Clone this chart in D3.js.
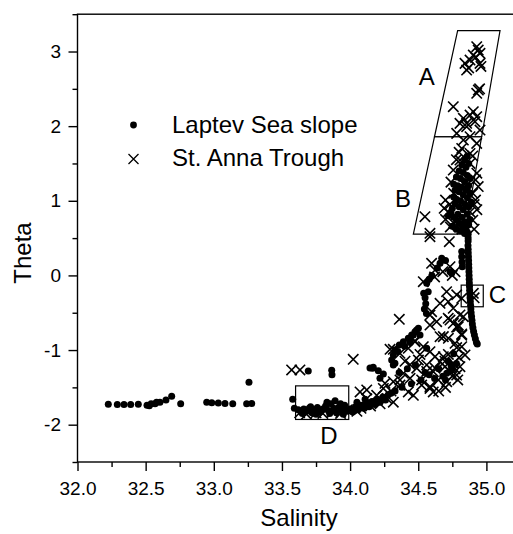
<!DOCTYPE html>
<html><head><meta charset="utf-8">
<script src="https://cdn.jsdelivr.net/npm/d3@7"></script>
<style>html,body{margin:0;padding:0;background:#fff;} svg{display:block;}</style>
</head><body>
<svg id="chart" width="513" height="534"></svg>
<script>
// ---- data (salinity, theta) ----
const xTickValues = [32.0, 32.5, 33.0, 33.5, 34.0, 34.5, 35.0];
const xMinorTicks = [32.25, 32.75, 33.25, 33.75, 34.25, 34.75, 35.25];
const yTickValues = [-2, -1, 0, 1, 2, 3];
const yMinorTicks = [-2.5, -1.5, -0.5, 0.5, 1.5, 2.5, 3.5];
const seriesNames = ["Laptev Sea slope", "St. Anna Trough"];

const laptevSlope = [
  [32.226,-1.725],[32.292,-1.73],[32.341,-1.728],[32.39,-1.728],[32.446,-1.725],[32.51,-1.74],[32.527,-1.745],
  [32.54,-1.72],[32.569,-1.72],[32.58,-1.70],[32.605,-1.70],[32.649,-1.67],[32.691,-1.62],[32.757,-1.72],
  [32.948,-1.70],[32.985,-1.705],[33.033,-1.71],[33.082,-1.715],[33.139,-1.72],[33.241,-1.72],[33.278,-1.715],[33.258,-1.43],
  [33.579,-1.66],[33.591,-1.78],[33.693,-1.28],[33.865,-1.27],[33.867,-1.33],
  [33.62,-1.80],[33.64,-1.83],[33.66,-1.79],[33.68,-1.82],[33.70,-1.78],[33.72,-1.84],[33.74,-1.80],[33.76,-1.77],
  [33.78,-1.83],[33.80,-1.79],[33.82,-1.75],[33.84,-1.81],[33.86,-1.72],[33.88,-1.78],[33.90,-1.84],[33.92,-1.76],
  [33.94,-1.80],[33.96,-1.74],[33.98,-1.82],[33.65,-1.85],[33.75,-1.86],[33.85,-1.85],[33.95,-1.86],[33.71,-1.76],
  [33.83,-1.70],[33.89,-1.68],[33.93,-1.72],
  [34.00,-1.79],[34.02,-1.83],[34.04,-1.76],[34.06,-1.80],[34.08,-1.74],[34.10,-1.78],[34.12,-1.72],[34.14,-1.76],
  [34.16,-1.69],[34.18,-1.73],[34.20,-1.66],[34.22,-1.70],[34.24,-1.63],[34.26,-1.67],[34.28,-1.60],[34.30,-1.58],
  [34.05,-1.70],[34.11,-1.66],[34.146,-1.24],[34.165,-1.245],[34.317,-1.20],
  [34.17,-1.232],[34.207,-1.276],[34.244,-1.321],[34.219,-1.379],[34.305,-1.134],[34.317,-1.066],[34.329,-1.0],
  [34.329,-1.178],[34.361,-0.933],[34.391,-0.888],[34.427,-0.843],[34.452,-0.799],[34.476,-0.754],[34.501,-0.709],
  [34.513,-0.80],[34.562,-0.977],[34.709,-1.312],[34.745,-1.267],[34.35,-1.02],[34.40,-0.95],[34.44,-0.90],
  [34.36,-1.30],[34.42,-1.25],[34.48,-1.20],[34.55,-1.30],[34.62,-1.38],[34.68,-1.35],
  [34.33,-1.55],[34.38,-1.50],[34.45,-1.45],[34.52,-1.40],[34.58,-1.33],[34.65,-1.25],[34.72,-1.15],[34.76,-1.05],
  [34.74,-1.20],[34.78,-1.18],[34.70,-1.40],
  [34.44,-0.84],[34.464,-0.80],[34.488,-0.73],[34.54,-0.24],[34.55,-0.30],[34.555,-0.38],[34.545,-0.45],[34.56,-0.51],
  [34.562,-0.106],[34.573,-0.22],[34.672,0.229],[34.66,0.162],[34.733,0.05],[34.745,0.03],[34.819,0.32],[34.819,0.25],
  [34.821,0.18],[34.823,0.117],[34.70,0.20],[34.64,0.10],[34.60,0.0],[34.58,-0.05],
  [34.866,0.55],[34.866,0.50],[34.866,0.46],[34.865,0.40],[34.866,0.35],[34.867,0.30],[34.868,0.25],[34.869,0.20],
  [34.870,0.15],[34.871,0.10],[34.872,0.05],[34.873,0.0],[34.874,-0.05],[34.875,-0.10],[34.876,-0.15],[34.877,-0.20],
  [34.879,-0.25],[34.880,-0.30],[34.882,-0.35],[34.884,-0.40],[34.886,-0.45],[34.888,-0.50],[34.891,-0.55],[34.894,-0.60],
  [34.897,-0.65],[34.901,-0.70],[34.906,-0.75],[34.912,-0.80],[34.919,-0.85],[34.927,-0.90],[34.933,-0.92],
  [34.86,0.58],[34.85,0.62],[34.83,0.66],[34.80,0.70],[34.78,0.74],[34.76,0.78],[34.79,0.82],[34.82,0.78],[34.84,0.72],
  [34.87,0.68],[34.88,0.75],[34.86,0.82],[34.83,0.88],[34.80,0.92],[34.77,0.96],[34.75,0.90],[34.78,1.02],[34.81,1.00],
  [34.84,0.96],[34.87,0.92],[34.89,0.98],[34.86,1.04],[34.83,1.08],[34.80,1.12],[34.77,1.14],[34.76,1.22],[34.79,1.20],
  [34.82,1.18],[34.85,1.14],[34.88,1.10],[34.87,1.20],[34.84,1.26],[34.81,1.30],[34.78,1.32],[34.80,1.40],[34.83,1.38],
  [34.86,1.34],[34.88,1.30],[34.85,1.45],[34.82,1.48],[34.84,1.55],[34.87,1.50],[34.86,1.60],[34.76,1.05],[34.74,0.85],
  [34.72,0.80],[34.75,0.66],[34.78,0.62],[34.81,0.60],[34.84,0.56]
];

const stAnnaTrough = [
  [33.571,-1.267],[33.632,-1.267],[34.023,-1.124],
  [33.63,-1.84],[33.68,-1.86],[33.75,-1.84],[33.80,-1.85],[33.87,-1.83],[33.93,-1.85],[33.98,-1.80],
  [34.05,-1.82],[34.08,-1.78],[34.073,-1.561],[34.122,-1.652],[34.15,-1.75],[34.195,-1.607],[34.22,-1.72],
  [34.244,-1.515],[34.27,-1.65],[34.317,-1.698],[34.30,-1.55],
  [34.366,-1.47],[34.427,-1.561],[34.464,-1.607],[34.525,-1.47],[34.586,-1.515],[34.61,-1.561],[34.562,-1.287],
  [34.623,-1.242],[34.696,-1.15],[34.733,-1.287],[34.721,-1.059],[34.293,-0.99],[34.44,-1.196],[34.403,-1.15],
  [34.476,-0.876],[34.513,-1.059],[34.489,-1.242],[34.782,-0.967],[34.782,-0.694],[34.819,-0.785],
  [34.361,-0.588],[34.317,-0.99],[34.366,-1.044],[34.427,-0.977],[34.476,-0.888],[34.537,-0.955],[34.586,-1.022],
  [34.623,-1.089],[34.66,-1.156],[34.696,-1.223],[34.733,-1.29],[34.782,-1.335],[34.806,-1.223],[34.525,-1.401],
  [34.586,-1.491],[34.648,-1.401],[34.709,-1.424],[34.391,-1.312],[34.44,-1.379],[34.366,-1.401],[34.317,-1.424],
  [34.256,-1.446],[34.122,-1.535],[34.586,-0.531],[34.635,-0.62],[34.733,-0.598],[34.794,-0.665],[34.831,-0.553],
  [34.66,-0.821],[34.721,-0.843],[34.77,-0.91],[34.819,-0.955],[34.684,-1.089],[34.758,-1.178],[34.843,-1.066],
  [34.501,-1.134],[34.562,-1.2],[34.611,-1.29],
  [34.75,-1.35],[34.77,-1.25],[34.80,-1.10],[34.79,-1.40],[34.70,-1.50],[34.65,-1.55],
  [34.586,0.519],[34.728,0.452],[34.598,0.162],[34.623,0.072],[34.733,0.117],[34.77,0.05],[34.537,-0.084],
  [34.708,-0.218],[34.782,-0.26],[34.819,-0.307],[34.66,-0.374],[34.72,-0.352],[34.757,-0.44],[34.598,-0.486],
  [34.586,-0.665],[34.72,-0.575],[34.757,-0.642],[34.806,-0.53],[34.794,-0.687],[34.684,-0.82],[34.819,-0.80],
  [34.904,-0.24],[34.91,-0.30],[34.75,0.0],[34.68,0.05],[34.62,-0.02],
  [34.549,0.787],[34.586,0.564],[34.757,1.412],[34.70,1.01],[34.69,0.90],[34.70,0.75],[34.735,0.65],[34.72,0.85],
  [34.93,1.37],[34.94,1.19],[34.92,1.01],[34.93,0.88],[34.90,0.74],[34.91,0.95],[34.90,1.10],[34.92,1.28],[34.88,1.50],
  [34.90,1.60],[34.78,1.55],[34.80,1.65],[34.74,1.25],[34.76,1.10],[34.73,0.95],[34.76,0.70],[34.82,0.62],[34.91,0.62],
  [34.85,1.20],[34.88,0.85],
  [34.806,2.037],[34.855,1.993],[34.916,2.06],[34.953,1.948],[34.782,1.903],[34.831,1.814],[34.88,1.859],[34.929,1.769],
  [34.819,1.702],[34.88,1.635],[34.806,1.546],
  [34.929,3.065],[34.953,2.975],[34.904,2.953],[34.88,2.886],[34.843,2.841],[34.855,2.752],[34.953,2.841],[34.96,2.80],
  [34.941,2.484],[34.929,2.44],[34.757,2.261],[34.904,2.194],[34.88,2.149],[34.929,2.127],[34.831,2.105],[34.855,2.038],
  [34.94,3.02],[34.92,2.92],[34.87,2.78],[34.95,2.50]
];

// water-mass regions (salinity, theta corners)
const regionA = [[34.789,3.28],[35.10,3.28],[34.965,1.858],[34.619,1.858]];
const regionB = [[34.619,1.858],[34.965,1.858],[34.84,0.553],[34.464,0.553]];
const regionC = [[34.815,-0.13],[34.977,-0.42]];
const regionD = [[33.60,-1.48],[33.99,-1.93]];
const regionLabels = ["A","B","C","D"];
const regionLabelAt = [[34.562,2.551],[34.388,0.92],[35.081,-0.37],[33.845,-2.259]];

// ---- drawing ----
const svg = d3.select("#chart");
const FONT = "'Liberation Sans', Arial, Helvetica, sans-serif";
const x = d3.scaleLinear().domain([32, 35.5]).range([77.5, 554.55]);
const y = d3.scaleLinear().domain([-2.5, 3.5]).range([462, 14.2]);

// frame
svg.append("rect").attr("x", x(32)).attr("y", y(3.5))
  .attr("width", x(35.5) - x(32)).attr("height", y(-2.5) - y(3.5))
  .attr("fill", "none").attr("stroke", "#000").attr("stroke-width", 1.4);

function styleAxis(g) {
  g.select(".domain").remove();
  g.selectAll("line").attr("stroke", "#000").attr("stroke-width", 1.4);
  g.selectAll("text").attr("fill", "#000").style("font-family", FONT).style("font-size", "19px");
}
svg.append("g").attr("transform", `translate(0,${y(-2.5)})`)
  .call(d3.axisBottom(x).tickValues(xTickValues).tickFormat(d3.format(".1f")).tickSize(9).tickPadding(10.5))
  .call(styleAxis);
svg.append("g").attr("transform", `translate(0,${y(-2.5)})`)
  .call(d3.axisBottom(x).tickValues(xMinorTicks).tickFormat("").tickSize(5))
  .call(styleAxis);
svg.append("g").attr("transform", `translate(${x(32)},0)`)
  .call(d3.axisLeft(y).tickValues(yTickValues).tickFormat(d3.format("d")).tickSize(9).tickPadding(7.5))
  .call(styleAxis);
svg.append("g").attr("transform", `translate(${x(32)},0)`)
  .call(d3.axisLeft(y).tickValues(yMinorTicks).tickFormat("").tickSize(5))
  .call(styleAxis);
svg.selectAll("text").filter(function(){return this.textContent.startsWith("−");})
  .text(function(){return this.textContent.replace("−","-");});

// axis titles
svg.append("text").attr("x", 299).attr("y", 526).attr("text-anchor", "middle")
  .style("font-family", FONT).style("font-size", "24px").text("Salinity");
svg.append("text").attr("transform", "translate(31,253) rotate(-90)").attr("text-anchor", "middle")
  .style("font-family", FONT).style("font-size", "24px").text("Theta");

// regions
const line = d3.line().x(d => x(d[0])).y(d => y(d[1]));
[regionA, regionB].forEach(r => {
  svg.append("path").attr("d", line(r) + "Z").attr("fill", "none").attr("stroke", "#000").attr("stroke-width", 1.2);
});
[regionC, regionD].forEach(r => {
  svg.append("rect").attr("x", x(r[0][0])).attr("y", y(r[0][1]))
    .attr("width", x(r[1][0]) - x(r[0][0])).attr("height", y(r[1][1]) - y(r[0][1]))
    .attr("fill", "none").attr("stroke", "#000").attr("stroke-width", 1.2);
});
svg.selectAll(".rlab").data(regionLabels).enter().append("text")
  .attr("x", (d, i) => x(regionLabelAt[i][0])).attr("y", (d, i) => y(regionLabelAt[i][1]))
  .attr("text-anchor", "middle").style("font-family", FONT).style("font-size", "24px").text(d => d);

// points
const pts = svg.append("g");
pts.selectAll("circle").data(laptevSlope).enter().append("circle")
  .attr("cx", d => x(d[0])).attr("cy", d => y(d[1])).attr("r", 3.5).attr("fill", "#000");
const cs = 5.2;
const crossPath = (cx, cy, s) => `M${cx-s},${cy-s}L${cx+s},${cy+s}M${cx-s},${cy+s}L${cx+s},${cy-s}`;
pts.selectAll("path.cross").data(stAnnaTrough).enter().append("path").attr("class", "cross")
  .attr("d", d => crossPath(x(d[0]), y(d[1]), cs))
  .attr("stroke", "#000").attr("stroke-width", 1.6).attr("fill", "none");

// legend
const lg = svg.append("g");
lg.append("circle").attr("cx", 133.5).attr("cy", 125).attr("r", 3.4).attr("fill", "#000");
lg.append("path").attr("d", crossPath(133.5, 159, 5)).attr("stroke", "#000").attr("stroke-width", 1.3);
lg.selectAll("text").data(seriesNames).enter().append("text")
  .attr("x", 172).attr("y", (d, i) => i === 0 ? 133 : 166)
  .style("font-family", FONT).style("font-size", "24px").text(d => d);
</script>
</body></html>
